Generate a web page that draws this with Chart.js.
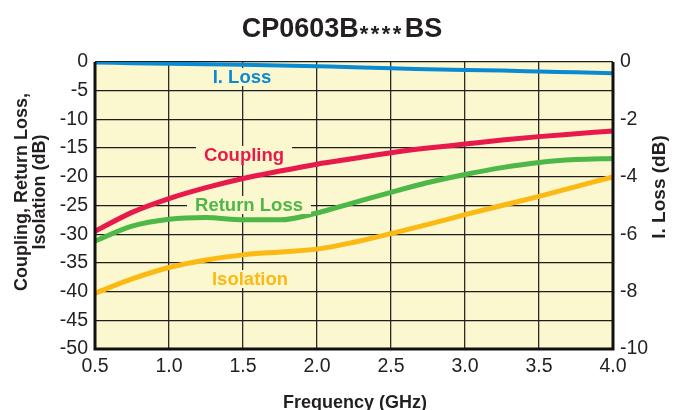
<!DOCTYPE html>
<html>
<head>
<meta charset="utf-8">
<script src="https://cdn.jsdelivr.net/npm/chart.js@4"></script>
<style>
  html, body { margin: 0; padding: 0; background: #fff; }
  #wrap { width: 681px; height: 410px; }
</style>
</head>
<body>
<div id="wrap"><canvas id="chart" width="681" height="410"></canvas></div>
<script>
const freq = [0.5, 0.75, 1.0, 1.25, 1.5, 1.75, 2.0, 2.25, 2.5, 2.75, 3.0, 3.25, 3.5, 3.75, 4.0];
const coupling = [-29.5, -26.2, -23.8, -21.9, -20.3, -19.0, -17.8, -16.8, -15.8, -15.0, -14.3, -13.6, -13.0, -12.5, -12.0];
const returnLoss = [-31.2, -28.6, -27.4, -27.1, -27.5, -27.5, -26.3, -24.5, -22.7, -21.0, -19.6, -18.4, -17.5, -17.0, -16.8];
const isolation = [-40.3, -37.8, -35.8, -34.5, -33.6, -33.1, -32.6, -31.4, -29.9, -28.3, -26.6, -25.0, -23.4, -21.7, -20.0];
const insertionLoss = [-0.02, -0.04, -0.06, -0.08, -0.10, -0.12, -0.15, -0.18, -0.22, -0.25, -0.28, -0.30, -0.33, -0.36, -0.39];

const freqTicks = [0.5, 1.0, 1.5, 2.0, 2.5, 3.0, 3.5, 4.0];
const leftTicks = [0, -5, -10, -15, -20, -25, -30, -35, -40, -45, -50];
const rightTicks = [0, -2, -4, -6, -8, -10];

const FONT = '"Liberation Sans", Arial, sans-serif';
const plotBg = '#fbf7cf';

function pts(ys) {
    return freq.map((f, i) => ({ x: f, y: ys[i] }));
}

// plot background
const bgPlugin = {
    id: 'bg',
    beforeDraw(chart) {
        const a = chart.chartArea;
        const ctx = chart.ctx;
        ctx.save();
        ctx.fillStyle = plotBg;
        ctx.fillRect(a.left, a.top, a.right - a.left, a.bottom - a.top);
        ctx.restore();
    }
};

// title, axis titles, in-plot series labels, frame
const textPlugin = {
    id: 'texts',
    afterDraw(chart) {
        const ctx = chart.ctx;
        const a = chart.chartArea;
        ctx.save();

        // frame
        ctx.strokeStyle = '#111';
        ctx.lineWidth = 3;
        ctx.beginPath();
        ctx.moveTo(a.left, a.top);
        ctx.lineTo(a.left, a.bottom);
        ctx.lineTo(a.right, a.bottom);
        ctx.lineTo(a.right, a.top);
        ctx.stroke();

        // title with small asterisks
        const big = 'bold 27px ' + FONT;
        const small = 'bold 22px ' + FONT;
        ctx.font = big;
        const w1 = ctx.measureText('CP0603B').width;
        const w2 = ctx.measureText('BS').width;
        const starStep = 11;
        const total = w1 + 4 * starStep + 2 + w2;
        let x = 342 - total / 2;
        ctx.fillStyle = '#231f20';
        ctx.textBaseline = 'alphabetic';
        ctx.textAlign = 'left';
        ctx.fillText('CP0603B', x, 37);
        x += w1 + 1;
        ctx.font = small;
        for (let i = 0; i < 4; i++) {
            ctx.fillText('*', x + i * starStep, 41);
        }
        x += 4 * starStep + 1;
        ctx.font = big;
        ctx.fillText('BS', x, 37);

        // axis titles
        ctx.font = 'bold 18px ' + FONT;
        ctx.textAlign = 'center';
        ctx.textBaseline = 'middle';
        ctx.fillText('Frequency (GHz)', 355, 403);

        ctx.save();
        ctx.translate(22, 192);
        ctx.rotate(-Math.PI / 2);
        ctx.fillText('Coupling, Return Loss,', 0, 0);
        ctx.fillText('Isolation (dB)', 0, 18);
        ctx.restore();

        ctx.save();
        ctx.translate(660, 187);
        ctx.rotate(-Math.PI / 2);
        ctx.font = 'bold 19px ' + FONT;
        ctx.fillText('I. Loss (dB)', 0, 0);
        ctx.restore();

        // series labels with backing boxes
        const labels = [
            ['I. Loss', '#0a8ad0', 242, 77],
            ['Coupling', '#e8194b', 244, 155],
            ['Return Loss', '#4db848', 249, 205],
            ['Isolation', '#fdb913', 250, 279]
        ];
        ctx.font = 'bold 18.5px ' + FONT;
        labels.forEach(l => {
            const w = ctx.measureText(l[0]).width;
            ctx.fillStyle = plotBg;
            ctx.fillRect(l[2] - w / 2 - 8, l[3] - 9, w + 16, 18);
            ctx.fillStyle = l[1];
            ctx.fillText(l[0], l[2], l[3] + 1);
        });

        ctx.restore();
    }
};

new Chart(document.getElementById('chart').getContext('2d'), {
    type: 'line',
    data: {
        datasets: [{
            label: 'Coupling',
            data: pts(coupling),
            borderColor: '#e8194b',
            borderWidth: 5,
            yAxisID: 'y'
        }, {
            label: 'Return Loss',
            data: pts(returnLoss),
            borderColor: '#4db848',
            borderWidth: 5,
            yAxisID: 'y'
        }, {
            label: 'Isolation',
            data: pts(isolation),
            borderColor: '#fdb913',
            borderWidth: 5,
            yAxisID: 'y'
        }, {
            label: 'I. Loss',
            data: pts(insertionLoss),
            borderColor: '#0a8ad0',
            borderWidth: 4,
            yAxisID: 'y1'
        }]
    },
    options: {
        responsive: false,
        animation: false,
        layout: { padding: { top: 62, left: 0, right: 0, bottom: 0 } },
        elements: {
            point: { radius: 0 },
            line: { cubicInterpolationMode: 'monotone', borderCapStyle: 'butt' }
        },
        plugins: {
            legend: { display: false },
            tooltip: { enabled: false }
        },
        scales: {
            x: {
                type: 'linear',
                min: 0.5,
                max: 4.0,
                afterFit: s => { s.height = 61; },
                afterBuildTicks: s => { s.ticks = freqTicks.map(v => ({ value: v })); },
                ticks: {
                    color: '#231f20',
                    font: { family: FONT, size: 19.5 },
                    padding: 6,
                    maxRotation: 0,
                    callback: v => v.toFixed(1)
                },
                grid: { color: '#2b2b2b', lineWidth: 1.3, drawTicks: false },
                border: { display: false }
            },
            y: {
                position: 'left',
                min: -50,
                max: 0,
                afterFit: s => { s.width = 95; },
                afterBuildTicks: s => { s.ticks = leftTicks.map(v => ({ value: v })); },
                ticks: {
                    color: '#231f20',
                    font: { family: FONT, size: 19.5 },
                    padding: 7
                },
                grid: { color: '#1e1e1e', lineWidth: 1.3, drawTicks: false },
                border: { display: false }
            },
            y1: {
                position: 'right',
                min: -10,
                max: 0,
                afterFit: s => { s.width = 68; },
                afterBuildTicks: s => { s.ticks = rightTicks.map(v => ({ value: v })); },
                ticks: {
                    color: '#231f20',
                    font: { family: FONT, size: 19.5 },
                    padding: 7
                },
                grid: { display: false, drawTicks: false },
                border: { display: false }
            }
        }
    },
    plugins: [bgPlugin, textPlugin]
});
</script>
</body>
</html>
